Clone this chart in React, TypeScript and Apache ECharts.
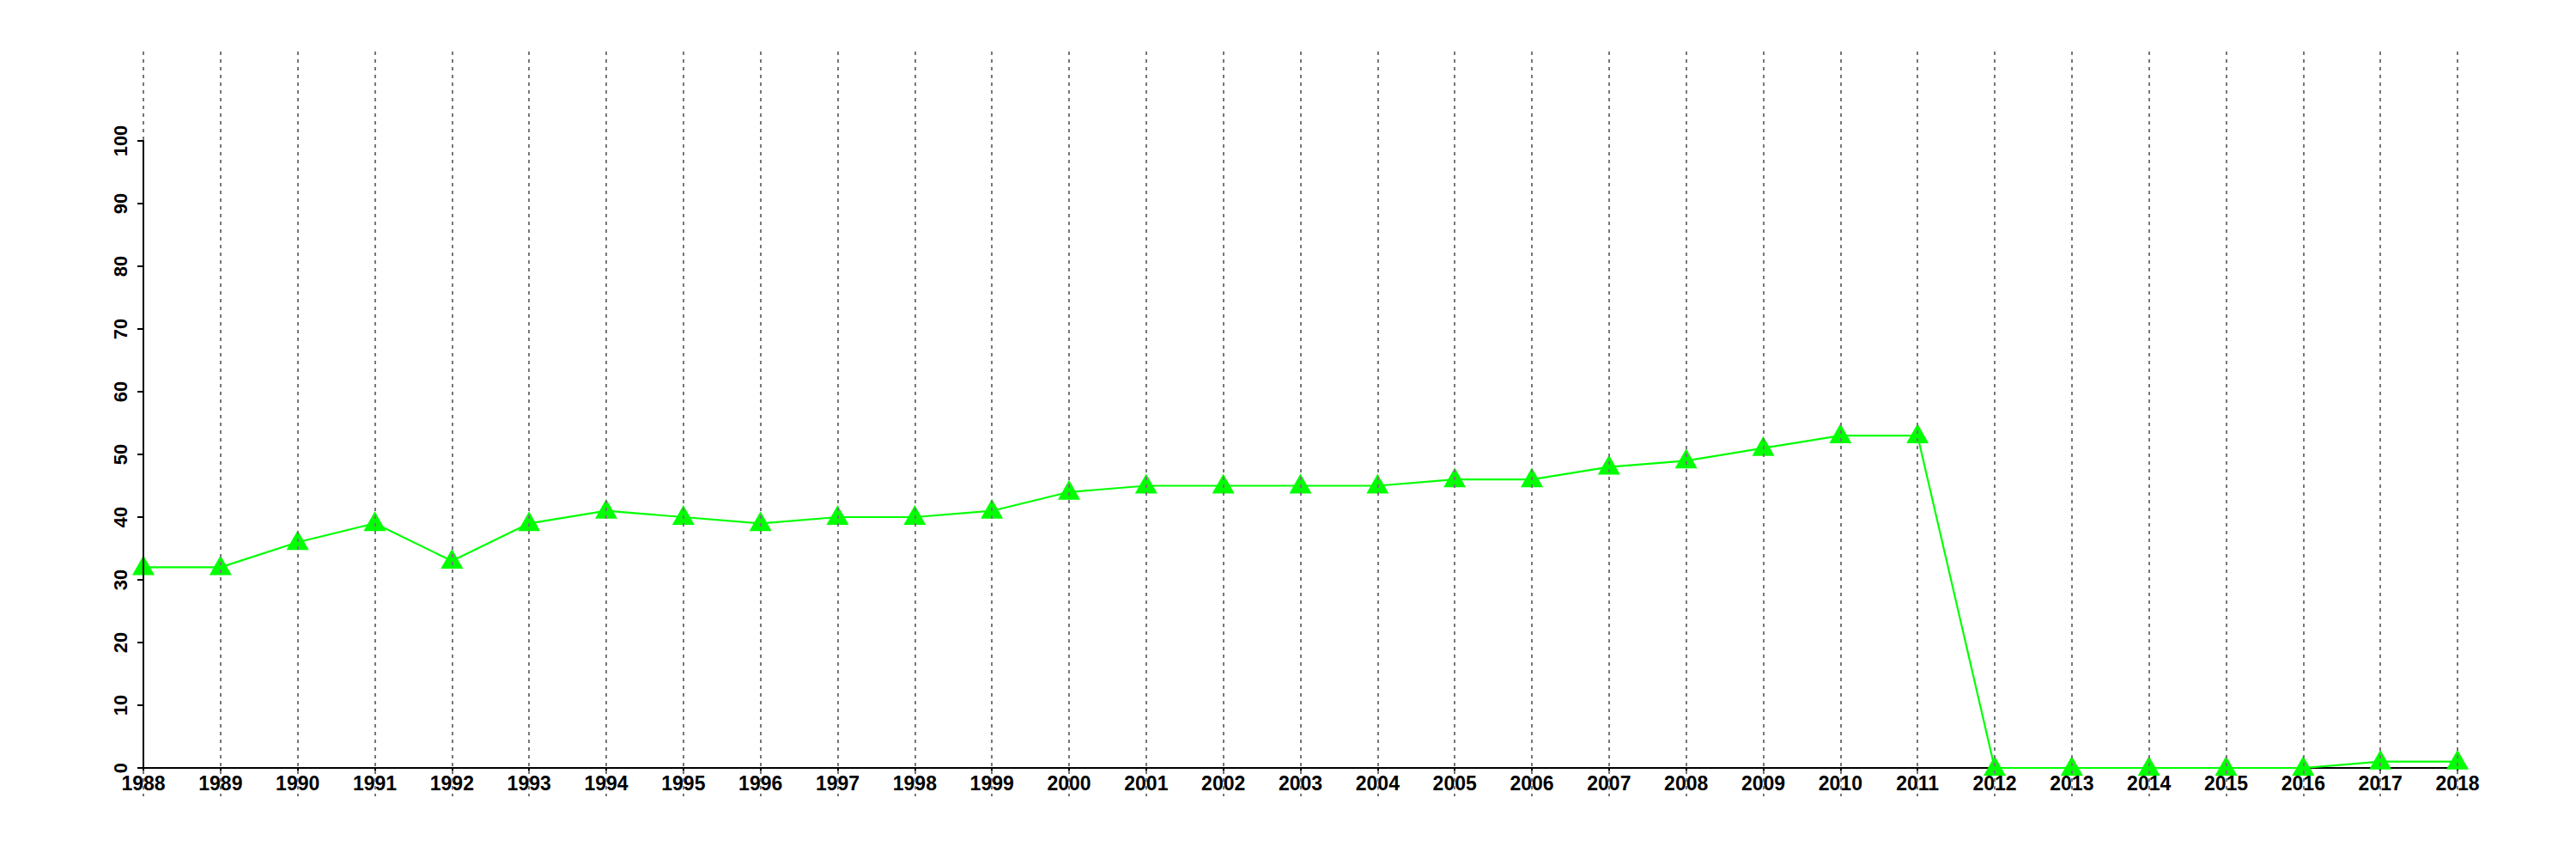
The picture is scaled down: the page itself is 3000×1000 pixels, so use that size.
import React, { useEffect, useRef } from "react";
import * as echarts from "echarts";

const years: string[] = [
  "1988", "1989", "1990", "1991", "1992", "1993", "1994", "1995", "1996", "1997",
  "1998", "1999", "2000", "2001", "2002", "2003", "2004", "2005", "2006", "2007",
  "2008", "2009", "2010", "2011", "2012", "2013", "2014", "2015", "2016", "2017", "2018",
];
const values: number[] = [
  32, 32, 36, 39, 33, 39, 41, 40, 39, 40,
  40, 41, 44, 45, 45, 45, 45, 46, 46, 48,
  49, 51, 53, 53, 0, 0, 0, 0, 0, 1, 1,
];
const yMin = 0;
const yMax = 100;
const yStep = 10;

const FONT = "'Liberation Sans', Arial, Helvetica, sans-serif";

export default function App() {
  const ref = useRef<HTMLDivElement>(null);
  useEffect(() => {
    if (!ref.current) return;
    const chart = echarts.init(ref.current, null, { renderer: "svg" });
    const left = 167;
    const right = 138;
    chart.setOption({
      animation: false,
      backgroundColor: "#ffffff",
      grid: [
        { left, right, top: 164, bottom: 106, containLabel: false },
        { left, right, top: 60, bottom: 73, containLabel: false },
      ],
      xAxis: [
        {
          gridIndex: 0,
          type: "category",
          data: years,
          boundaryGap: false,
          z: 1,
          axisLine: { show: true, lineStyle: { color: "#000", width: 2 } },
          axisTick: { show: true, interval: 0, length: 7, lineStyle: { color: "#000", width: 2 } },
          axisLabel: {
            show: true,
            interval: 0,
            margin: 6,
            color: "#000",
            fontSize: 23,
            fontWeight: "bold",
            fontFamily: FONT,
          },
          splitLine: { show: false },
        },
        {
          gridIndex: 1,
          type: "category",
          data: years,
          boundaryGap: false,
          z: 10,
          axisLine: { show: false },
          axisTick: { show: false },
          axisLabel: { show: false },
          splitLine: {
            show: true,
            interval: 0,
            lineStyle: { color: "#777777", width: 2, type: [4, 5] },
          },
        },
      ],
      yAxis: [
        {
          gridIndex: 0,
          type: "value",
          min: yMin,
          max: yMax,
          interval: yStep,
          z: 11,
          axisLine: { show: true, lineStyle: { color: "#000", width: 2 } },
          axisTick: { show: true, length: 7, lineStyle: { color: "#000", width: 2 } },
          axisLabel: {
            show: true,
            rotate: 90,
            margin: 16,
            color: "#000",
            fontSize: 22,
            fontWeight: "bold",
            fontFamily: FONT,
          },
          splitLine: { show: false },
        },
        {
          gridIndex: 1,
          type: "value",
          min: 0,
          max: 1,
          show: false,
          splitLine: { show: false },
        },
      ],
      series: [
        {
          type: "line",
          xAxisIndex: 0,
          yAxisIndex: 0,
          data: values,
          symbol: "triangle",
          symbolSize: [26, 23],
          symbolOffset: [0, -2.5],
          showAllSymbol: true,
          lineStyle: { color: "#00ff00", width: 2.2 },
          itemStyle: { color: "#00ff00" },
          z: 2,
        },
      ],
    });
    return () => chart.dispose();
  }, []);
  return (
    <div
      ref={ref}
      style={{ position: "absolute", left: 0, top: 0, width: 3000, height: 1000 }}
    />
  );
}
